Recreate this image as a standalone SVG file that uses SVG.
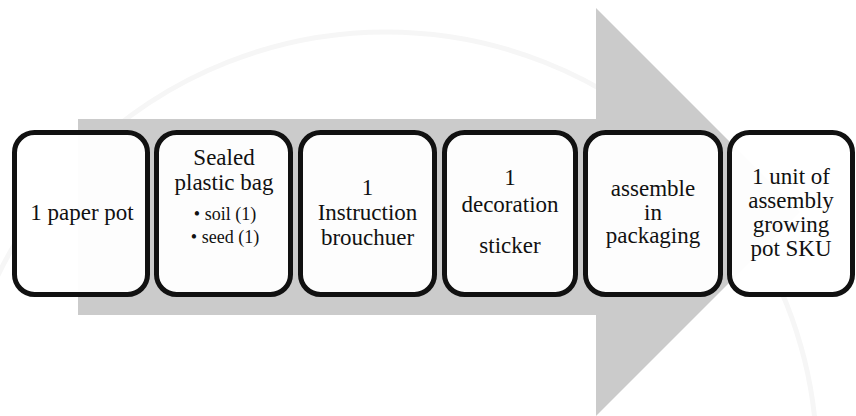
<svg xmlns="http://www.w3.org/2000/svg" width="856" height="416" viewBox="0 0 856 416">
<style>
.box{fill:#ffffff;fill-opacity:0.96;stroke:#111111;stroke-width:5}
</style>
<rect width="856" height="416" fill="#ffffff"/>
<g id="watermark" fill="none" stroke="#f6f6f6" stroke-width="5">
<circle cx="386" cy="463" r="431"/>
</g>
<g id="arrow">
<polygon points="78,119 596,119 596,8 800,212 596,416 596,315 78,315" fill="#cbcbcb"/>
</g>
<g font-family="Liberation Serif, Times New Roman, serif" font-size="23" fill="#111111" text-anchor="middle">
<g id="node1">
<rect class="box" x="14.5" y="132.5" width="133" height="162" rx="20"/>
<text x="82" y="220">1 paper pot</text>
</g>
<g id="node2">
<rect class="box" x="156.5" y="132.5" width="134" height="162" rx="20"/>
<text x="224" y="165">Sealed</text>
<text x="224" y="190">plastic bag</text>
<text x="225" y="220" font-size="18">• soil (1)</text>
<text x="225" y="243" font-size="18">• seed (1)</text>
</g>
<g id="node3">
<rect class="box" x="300.5" y="132.5" width="134" height="162" rx="20"/>
<text x="367.5" y="195">1</text>
<text x="367.5" y="220">Instruction</text>
<text x="367.5" y="245">brouchuer</text>
</g>
<g id="node4">
<rect class="box" x="444.5" y="132.5" width="131" height="162" rx="20"/>
<text x="510" y="185">1</text>
<text x="510" y="212">decoration</text>
<text x="510" y="253">sticker</text>
</g>
<g id="node5">
<rect class="box" x="585.5" y="132.5" width="135" height="162" rx="20"/>
<text x="653" y="196">assemble</text>
<text x="653" y="220">in</text>
<text x="653" y="243">packaging</text>
</g>
<g id="node6">
<rect class="box" x="729.5" y="132.5" width="123" height="162" rx="20"/>
<text x="791" y="184">1 unit of</text>
<text x="791" y="208">assembly</text>
<text x="791" y="232">growing</text>
<text x="791" y="256">pot SKU</text>
</g>
</g>
<g id="connectors"/>
</svg>
